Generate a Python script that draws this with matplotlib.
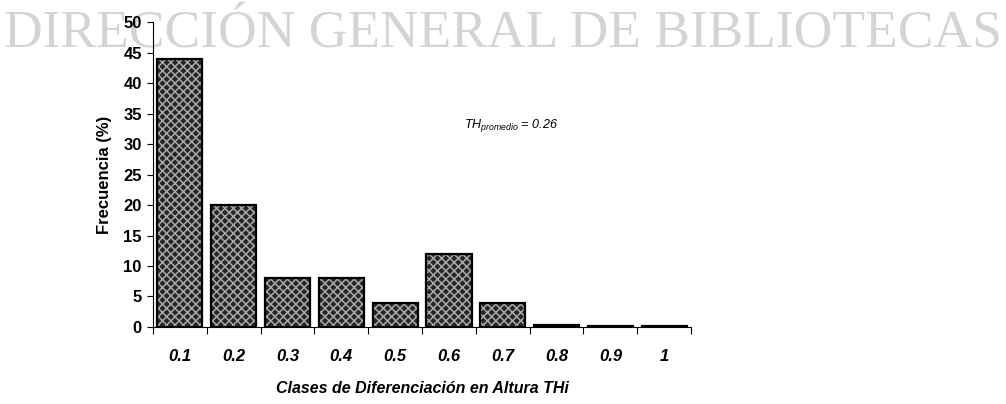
import matplotlib
matplotlib.use("Agg")
import matplotlib.pyplot as plt

plt.rcParams["font.family"] = ["Liberation Sans", "DejaVu Sans"]
plt.rcParams["mathtext.fontset"] = "custom"
plt.rcParams["mathtext.it"] = "Liberation Sans:italic"
plt.rcParams["mathtext.rm"] = "Liberation Sans"
plt.rcParams["hatch.linewidth"] = 1.1

clases = ["0.1", "0.2", "0.3", "0.4", "0.5", "0.6", "0.7", "0.8", "0.9", "1"]
frecuencia = [44, 20, 8, 8, 4, 12, 4, 0.3, 0.1, 0.1]
y_ticks = [0, 5, 10, 15, 20, 25, 30, 35, 40, 45, 50]

fig = plt.figure(figsize=(10.06, 4.04), dpi=100)
ax = fig.add_axes([0.152, 0.1906, 0.535, 0.7549])
ax.patch.set_alpha(0)

pos = list(range(len(clases)))
# hatched fill, then a black outline on top
ax.bar(pos, frecuencia, width=0.84, color="#262626", edgecolor="#a8a8a8",
       hatch="xxxx", linewidth=0, zorder=2)
ax.bar(pos, frecuencia, width=0.84, fill=False, edgecolor="black",
       linewidth=1.6, zorder=3)

ax.set_xlim(-0.5, len(clases) - 0.5)
ax.set_ylim(0, 50)
ax.set_yticks(y_ticks)
ax.set_yticklabels([str(v) for v in y_ticks], fontsize=12, fontweight="bold")

# tick marks between categories, labels at centres
ax.set_xticks([p - 0.5 for p in pos] + [len(clases) - 0.5])
ax.set_xticklabels([])
ax.set_xticks(pos, minor=True)
ax.set_xticklabels(clases, minor=True, fontsize=12, fontweight="bold",
                   fontstyle="italic")
ax.tick_params(axis="x", which="minor", length=0, pad=16)
ax.tick_params(axis="x", which="major", length=5, width=0.8, direction="out")
ax.tick_params(axis="y", length=4, width=0.8, direction="out", pad=4)

for s in ["top", "right"]:
    ax.spines[s].set_visible(False)
ax.spines["left"].set_linewidth(0.8)
ax.spines["bottom"].set_linewidth(0.8)

ax.set_ylabel("Frecuencia (%)", fontsize=12, fontweight="bold", labelpad=8)
ax.set_xlabel("Clases de Diferenciación en Altura THi",
              fontsize=11.5, fontstyle="italic", fontweight="bold", labelpad=12)

ax.text(6.15, 33, r"$TH_{promedio}$ = 0.26", fontsize=9, fontstyle="italic",
        ha="center", va="center")

# watermark sits behind the chart
fig.text(0.5, 0.915, "DIRECCIÓN GENERAL DE BIBLIOTECAS",
         family="Liberation Serif", fontsize=38.5, color="#d4d4d4",
         ha="center", va="center", zorder=-1)

fig.savefig("out.png", dpi=100)
